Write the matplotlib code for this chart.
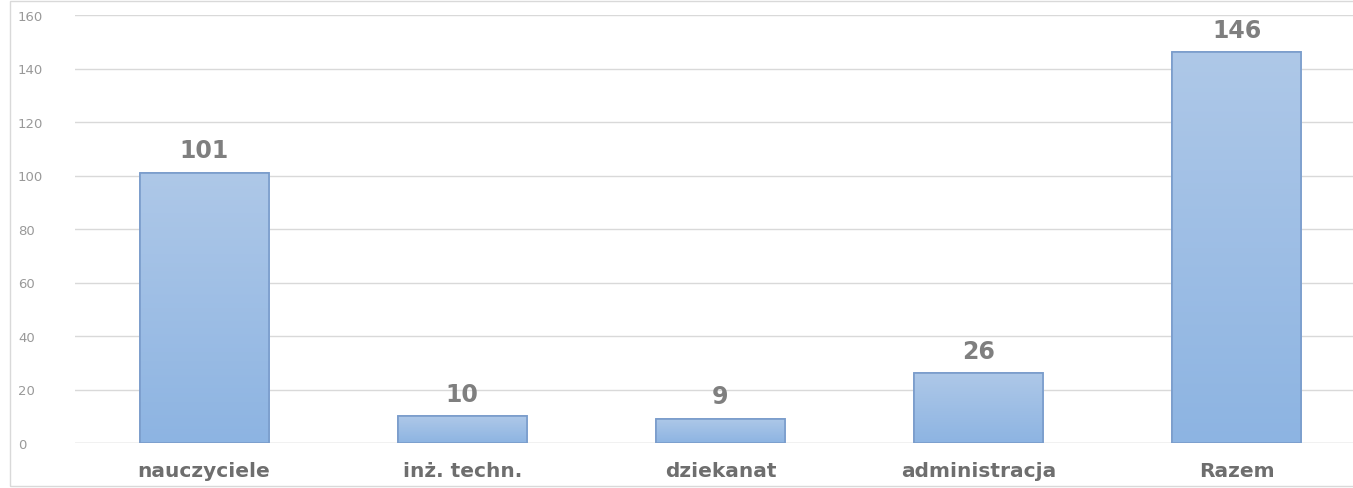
import matplotlib
matplotlib.use("Agg")
import matplotlib.pyplot as plt
import matplotlib.patches as patches
import numpy as np

categories = ["nauczyciele", "inż. techn.", "dziekanat", "administracja", "Razem"]
values = [101, 10, 9, 26, 146]
y_ticks = [0, 20, 40, 60, 80, 100, 120, 140, 160]

fig = plt.figure(figsize=(13.53, 4.89), dpi=100)
ax = fig.add_axes([75 / 1353, 45 / 489, 1 - 75 / 1353, 428 / 489])

x = np.arange(len(categories))
bars = ax.bar(x, values, width=0.5, color="#9dbce3", edgecolor="#7a9ccb",
              linewidth=1.2, zorder=2)

# vertical gradient inside each bar, lighter at the top
grad = np.linspace(0, 1, 256).reshape(-1, 1)
cmap = matplotlib.colors.LinearSegmentedColormap.from_list(
    "barfill", ["#8db4e2", "#aec8e8"])
for b in bars:
    x0, y0 = b.get_x(), b.get_y()
    w, h = b.get_width(), b.get_height()
    im = ax.imshow(grad, cmap=cmap, aspect="auto", origin="lower",
                   extent=[x0, x0 + w, y0, y0 + h], zorder=2.5)
    im.set_clip_path(b)
    edge = patches.Rectangle((x0, y0), w, h, fill=False, edgecolor="#7a9ccb",
                             linewidth=1.2, zorder=3)
    ax.add_patch(edge)

for xi, v in zip(x, values):
    ax.text(xi, v + 4, str(v), ha="center", va="bottom", fontsize=17,
            fontweight="bold", color="#7f7f7f")

ax.set_xlim(-0.5, 4.45)
ax.set_ylim(0, 160)
ax.set_yticks(y_ticks)
ax.set_yticklabels([str(t) for t in y_ticks], color="#999999", fontsize=9.5)
ax.set_xticks(x)
ax.set_xticklabels(categories, fontsize=14.5, fontweight="bold", color="#6e6e6e")
ax.tick_params(axis="both", length=0)
ax.tick_params(axis="y", pad=41)
ax.tick_params(axis="x", pad=13)
for lbl in ax.get_yticklabels():
    lbl.set_horizontalalignment("left")

ax.grid(axis="y", color="#d9d9d9", linewidth=1, zorder=0)
for s in ax.spines.values():
    s.set_visible(False)
ax.axhline(0, color="#d9d9d9", linewidth=1, zorder=1)

# outer chart border
fig.add_artist(patches.Rectangle((10 / 1353, 2 / 489), 1.0, 1.0 - 4 / 489,
                                 transform=fig.transFigure, fill=False,
                                 edgecolor="#d9d9d9", linewidth=1))

fig.savefig("out.png", dpi=100)
